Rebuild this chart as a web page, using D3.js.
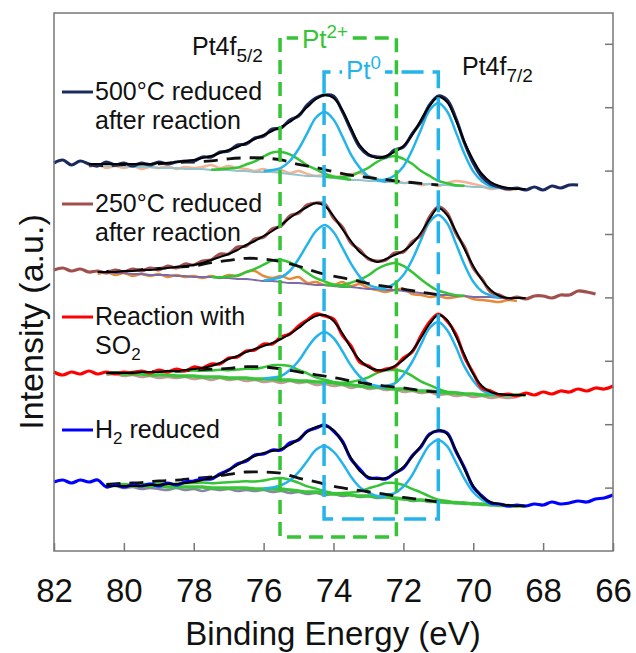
<!DOCTYPE html>
<html>
<head>
<meta charset="utf-8">
<script src="https://cdnjs.cloudflare.com/ajax/libs/d3/7.8.5/d3.min.js"></script>
<style>
  html, body { margin: 0; padding: 0; background: #fff; }
  #chart { width: 636px; height: 653px; }
  text { font-family: "Liberation Sans", Arial, sans-serif; fill: #111; }
</style>
</head>
<body>
<div id="chart"></div>
<script>
// Binding energy grid: 82 eV down to 66 eV, one sample every 0.25 eV
const eMax = 82, eStep = 0.25;
const energies = d3.range(0, 65).map((i) => eMax - i * eStep);

const xTicks = [82, 80, 78, 76, 74, 72, 70, 68, 66];
const yTicks = [63.4, 126.8, 190.2, 253.6, 317, 380.4, 443.8, 507.2];

// 500°C reduced after reaction (data from 82 eV, fit/base/trace from 81 eV)
const data500 = [388,391,386,390,387,385,389,386,388,385,388,386,389,387,389,390,390,394,394,399,400,406,407,413,415,422,423,431,435,446,453,456,455,440,421,404,396,394,394,401,404,417,429,446,455,451,433,408,388,374,367,364,362,363,361,364,361,365,363,366,366];
const fit500 = [387,387,387,387,387,387,387,387,388,388,389,390,391,393,395,398,401,404,408,412,416,420,424,429,436,444,452,456,453,441,423,406,397,393,395,399,405,416,431,445,454,449,431,409,391,377,369,365,363,362,362];
const base500 = [386,386,385,385,385,384,384,384,383,383,383,382,382,382,381,381,381,380,380,379,379,379,378,377,376,375,375,374,373,372,371,371,370,370,369,369,368,368,367,367,366,366,365,365,364,364,363,363,362,362,362];
const trace500 = [384,386,383,385,383,385,382,384,383,385,382,384,383,384,386,383,385,383,382,380,382,379,381,378,380,377,375,376,374,375,377,378,375,372,370,371,368,369,366,367,365,368,370,369,367,365,362,363,361,362];
const amps500 = [65, 82, 21, 26, 14];

// 250°C reduced after reaction (fit/base/trace from 80.75 eV)
const data250 = [281,283,280,282,279,280,278,281,279,282,280,283,281,285,283,287,286,290,291,297,297,304,305,312,314,322,325,335,338,346,348,347,333,324,308,301,292,290,291,298,299,309,316,334,344,338,318,304,283,272,259,256,252,254,252,255,255,253,256,256,260,259,257];
const fit250 = [279,279,279,280,280,281,281,282,283,284,285,286,288,291,294,297,301,306,310,315,320,326,333,339,344,348,345,335,322,310,299,293,289,292,296,300,307,318,332,343,336,320,302,285,271,261,255,253,253,253];
const base250 = [279,279,278,278,277,277,276,276,276,275,275,274,274,274,273,273,272,272,271,270,270,269,268,268,267,266,266,265,264,264,263,262,262,261,261,260,259,258,257,256,256,255,255,254,254,254,253,253,253,253];
const trace250 = [277,279,276,278,275,277,275,277,274,276,274,275,273,275,273,276,275,279,280,275,273,275,272,274,268,269,266,266,269,265,267,263,261,259,261,262,257,256,254,255,253,254,255,252,251,250,249,251,250];
const amps250 = [60, 80, 22, 27, 22];

// Reaction with SO2 (fit/base/trace from 80.5 eV)
const dataSO2 = [179,176,179,177,180,177,179,177,179,178,180,178,181,179,182,180,184,183,187,187,193,194,200,201,207,207,214,217,225,231,237,235,232,216,205,189,185,180,182,184,193,199,215,229,237,230,217,194,178,163,160,156,157,155,158,156,159,157,160,159,162,160,163,162,165];
const fitSO2 = [178,178,178,178,179,179,179,180,180,181,182,183,185,188,192,195,199,202,205,208,212,217,223,230,235,236,230,218,203,191,184,181,181,185,191,200,213,227,236,231,215,196,177,165,159,157,156,156,156];
const baseSO2 = [178,178,177,177,177,176,176,176,175,175,175,174,174,174,173,173,173,172,172,172,171,171,170,170,169,169,168,167,166,165,164,164,163,162,162,161,160,160,159,158,158,157,157,156,156,156,156,156,156];
const traceSO2 = [176,177,175,176,174,175,173,174,173,174,172,173,171,173,171,172,170,171,169,170,168,170,168,169,166,167,165,166,163,165,162,163,161,162,159,160,158,159,156,157,155,156,154,155,153,154,153,154];
const ampsSO2 = [50, 70, 15, 19, 12];

// H2 reduced (fit/base/trace from 80.5 eV)
const dataH2 = [69,71,68,71,69,71,64,66,64,66,65,67,65,68,66,69,70,72,72,77,81,87,90,96,97,101,101,108,111,120,123,126,120,110,92,82,73,73,72,78,83,95,104,117,120,118,100,83,64,55,48,47,45,46,45,47,46,49,47,48,50,49,52,53,56];
const fitH2 = [65,65,65,65,65,66,66,67,67,68,69,71,73,76,81,86,91,95,98,100,102,106,112,119,124,125,121,109,93,80,74,72,73,77,84,94,105,116,121,117,101,82,65,54,49,47,46,45,45];
const baseH2 = [66,66,66,65,65,65,65,64,64,64,64,64,63,63,63,63,63,62,62,62,62,61,60,59,59,58,57,57,56,55,55,54,54,53,52,51,51,50,49,49,48,48,47,47,46,46,45,45,45];
const traceH2 = [64,65,63,64,62,63,62,61,63,61,62,60,62,61,62,60,61,60,61,59,60,58,59,57,58,56,57,55,56,54,55,53,54,52,53,50,51,49,50,48,49,47,48,46,47,45,46,44];
const ampsH2 = [47, 62, 11, 15, 17];

const pt0Peaks = [74.25, 71.0];
const pt2Peaks = [75.5, 72.25];
const broadPeak = 76.0;
const pt0Offsets = d3.range(-7, 8);
const pt0Shape = [0.01,0.03,0.08,0.2,0.4,0.66,0.9,1,0.9,0.66,0.39,0.19,0.07,0.02,0.005];
const pt2Offsets = d3.range(-8, 9);
const pt2Shape = [0.01,0.03,0.07,0.16,0.31,0.51,0.74,0.93,1,0.93,0.74,0.51,0.31,0.16,0.07,0.03,0.01];
const pt2TailOffsets = d3.range(-20, 9);
const pt2TailShape = [0,0.04,0.08,0.11,0.15,0.19,0.22,0.26,0.3,0.33,0.37,0.41,0.44,0.48,0.52,0.56,0.61,0.68,0.78,0.92,1,0.93,0.74,0.51,0.31,0.16,0.07,0.03,0.01];
const broadOffsets = d3.range(-20, 21, 2);
const broadShape = [0,0.03,0.1,0.2,0.3,0.4,0.5,0.65,0.8,0.94,1,0.93,0.76,0.6,0.45,0.34,0.25,0.16,0.09,0.04,0.01];

// box extents for the Pt2+ / Pt0 markers (eV, a.u.)
const pt2Box = { e: [75.53, 72.2], v: [513, 14] };
const pt0Box = { e: [74.27, 71.0], v: [479, 32] };

const spectra = [
  { label: ["500°C reduced", "after reaction"], color: "#1b2a5e", data: data500, fit: fit500, base: base500, trace: trace500, start: 4, amps: amps500, traceColor: "#f3b394", baseColor: "#92c4cc", baseWidth: 2, tail: false, legendY: 92 },
  { label: ["250°C reduced", "after reaction"], color: "#a04f4c", data: data250, fit: fit250, base: base250, trace: trace250, start: 5, amps: amps250, traceColor: "#e8893a", baseColor: "#7d6aa6", baseWidth: 2, tail: false, legendY: 204 },
  { label: ["Reaction with", "SO|2"], color: "#ff0000", data: dataSO2, fit: fitSO2, base: baseSO2, trace: traceSO2, start: 6, amps: ampsSO2, traceColor: "#c49a96", baseColor: "#3cc43c", baseWidth: 3.5, tail: true, legendY: 317 },
  { label: ["H|2| reduced"], color: "#0000ff", data: dataH2, fit: fitH2, base: baseH2, trace: traceH2, start: 6, amps: ampsH2, traceColor: "#8a84a6", baseColor: "#3cc43c", baseWidth: 3.5, tail: true, legendY: 430 },
];

const width = 636, height = 653;
const marginLeft = 54, marginRight = 23, marginTop = 13, marginBottom = 102;
const chartWidth = width - marginLeft - marginRight;
const chartHeight = height - marginTop - marginBottom;

const xScale = d3.scaleLinear().domain([82, 66]).range([0, chartWidth]);
const yScale = d3.scaleLinear().domain([0, 538]).range([chartHeight, 0]);

const svg = d3.select("#chart").append("svg").attr("width", width).attr("height", height);
const g = svg.append("g").attr("transform", `translate(${marginLeft}, ${marginTop})`);

const green = "#35c435", cyan = "#25b4ea";

const line = d3.line()
  .x((d) => xScale(d[0]))
  .y((d) => yScale(d[1]))
  .curve(d3.curveCatmullRom.alpha(0.5));

function series(values, start) {
  return values.map((v, i) => [energies[start + i], v]);
}

function component(s, centerE, offsets, shape, amp) {
  const c = Math.round((eMax - centerE) / eStep);
  return offsets
    .map((k, j) => {
      const b = s.base[c + k - s.start];
      return b === undefined ? null : [energies[c + k], b + amp * shape[j]];
    })
    .filter((p) => p);
}

const plot = g.append("g").attr("class", "spectra");

spectra.forEach((s) => {
  const grp = plot.append("g");
  const path = (d, color, w, dash) =>
    grp.append("path").attr("d", line(d)).attr("fill", "none")
      .attr("stroke", color).attr("stroke-width", w)
      .attr("stroke-dasharray", dash || null).attr("stroke-linejoin", "round");

  path(series(s.trace, s.start), s.traceColor, 2.5);
  path(series(s.base, s.start), s.baseColor, s.baseWidth);

  // Pt2+ doublet
  path(s.tail ? component(s, pt2Peaks[0], pt2TailOffsets, pt2TailShape, s.amps[2])
              : component(s, pt2Peaks[0], pt2Offsets, pt2Shape, s.amps[2]), green, 2.5);
  path(component(s, pt2Peaks[1], pt2Offsets, pt2Shape, s.amps[3]), green, 2.5);
  // Pt0 doublet
  path(component(s, pt0Peaks[0], pt0Offsets, pt0Shape, s.amps[0]), cyan, 2.5);
  path(component(s, pt0Peaks[1], pt0Offsets, pt0Shape, s.amps[1]), cyan, 2.5);
  // broad underlying component
  path(component(s, broadPeak, broadOffsets, broadShape, s.amps[4]), "#111", 2.8, "14 9");

  path(series(s.data, 0), s.color, 3.2);
  path(series(s.fit, s.start), "#000", 2);
});

// axes and frame
const frameColor = "#777";
g.append("rect").attr("width", chartWidth).attr("height", chartHeight)
  .attr("fill", "none").attr("stroke", frameColor).attr("stroke-width", 1.5);

const xaxis = d3.axisBottom(xScale).tickValues(xTicks).tickSize(-8).tickSizeOuter(0)
  .tickPadding(28).tickFormat(d3.format("d"));
const xg = g.append("g").attr("transform", `translate(0, ${chartHeight})`).call(xaxis);
xg.select(".domain").remove();
xg.selectAll(".tick line").attr("stroke", frameColor).attr("stroke-width", 1.5);
xg.selectAll(".tick text").attr("font-size", 33).attr("font-family", "Liberation Sans, Arial, sans-serif").attr("fill", "#111");

const yaxis = d3.axisLeft(yScale).tickValues(yTicks).tickSize(8).tickSizeOuter(0).tickFormat("");
const yg = g.append("g").attr("transform", `translate(${chartWidth}, 0)`).call(yaxis);
yg.select(".domain").remove();
yg.selectAll(".tick line").attr("stroke", frameColor).attr("stroke-width", 1.5);

svg.append("text").attr("x", 333).attr("y", 645).attr("text-anchor", "middle")
  .attr("font-size", 33).text("Binding Energy (eV)");
svg.append("text").attr("transform", "translate(43, 322) rotate(-90)")
  .attr("text-anchor", "middle").attr("font-size", 34).text("Intensity (a.u.)");

// Pt2+ and Pt0 marker boxes
function box(b, color, dash) {
  const x0 = xScale(b.e[0]), x1 = xScale(b.e[1]);
  const y0 = yScale(b.v[0]), y1 = yScale(b.v[1]);
  g.append("path")
    .attr("d", `M${x0},${y0}V${y1}H${x1}V${y0}Z`)
    .attr("fill", "none").attr("stroke", color).attr("stroke-width", 3.5)
    .attr("stroke-dasharray", dash);
}
box(pt2Box, green, "14 8");
box(pt0Box, cyan, "22 9");

function label(x, y, parts, color, size) {
  const bg = svg.append("rect").attr("fill", "#fff");
  const t = svg.append("text").attr("x", x).attr("y", y).attr("font-size", size)
    .style("fill", color);
  parts.forEach((p) => {
    const ts = t.append("tspan").text(p.t);
    if (p.sub) ts.attr("font-size", size * 0.76).attr("dy", 7);
    if (p.sup) ts.attr("font-size", size * 0.72).attr("dy", -10);
  });
  return { bg, t };
}

const lbl2 = label(302, 48, [{ t: "Pt" }, { t: "2+", sup: true }], green, 26);
const bb2 = lbl2.t.node().getBBox();
lbl2.bg.attr("x", bb2.x - 4).attr("y", bb2.y).attr("width", bb2.width + 8).attr("height", bb2.height);
const lbl0 = label(346, 79, [{ t: "Pt" }, { t: "0", sup: true }], cyan, 26);
const bb0 = lbl0.t.node().getBBox();
lbl0.bg.attr("x", bb0.x - 4).attr("y", bb0.y).attr("width", bb0.width + 8).attr("height", bb0.height);

label(192, 55, [{ t: "Pt4f" }, { t: "5/2", sub: true }], "#111", 25);
label(462, 75, [{ t: "Pt4f" }, { t: "7/2", sub: true }], "#111", 25);

// legend entries
spectra.forEach((s) => {
  svg.append("line").attr("x1", 62).attr("x2", 93)
    .attr("y1", s.legendY).attr("y2", s.legendY)
    .attr("stroke", s.color).attr("stroke-width", 3);
  s.label.forEach((txt, k) => {
    const t = svg.append("text").attr("x", 95).attr("y", s.legendY + 8 + k * 29).attr("font-size", 25);
    txt.split("|").forEach((part, j) => {
      const ts = t.append("tspan").text(part);
      if (j === 1) ts.attr("font-size", 17).attr("dy", 6);
      if (j === 2) ts.attr("dy", -6);
    });
  });
});
</script>
</body>
</html>
